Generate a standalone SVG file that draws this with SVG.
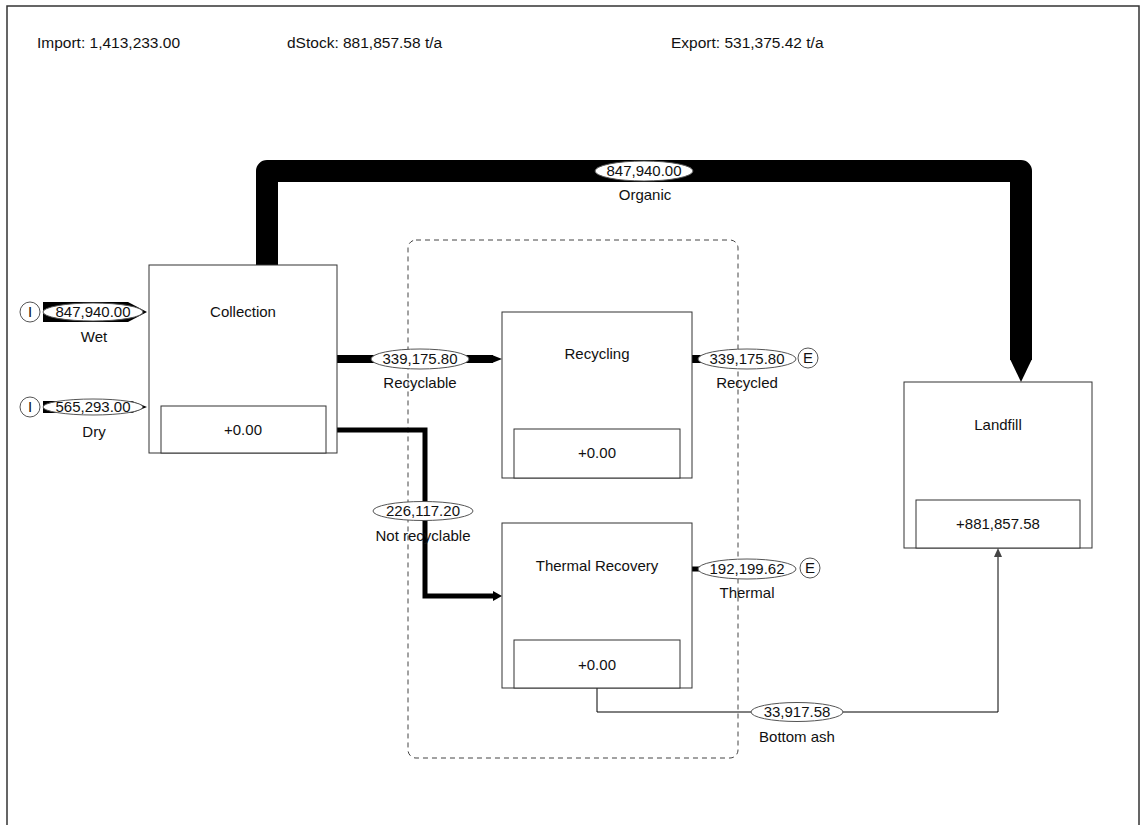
<svg xmlns="http://www.w3.org/2000/svg" width="1143" height="825" viewBox="0 0 1143 825">
<style>
text{font-family:"Liberation Sans",Arial,sans-serif;font-size:15px;fill:#111;text-anchor:middle}
.hdr{text-anchor:start;font-size:15.5px}
.box{fill:#fff;stroke:#333;stroke-width:1}
.lbl{fill:#fff;stroke:#555;stroke-width:1}
.flow{fill:none;stroke:#000}
.blk{fill:#000;stroke:none}
.term{fill:#fff;stroke:#555;stroke-width:1}
</style>
<rect width="1143" height="825" fill="#fff"/>
<path d="M7,825 V6 H1139 V825" fill="none" stroke="#333" stroke-width="1.5"/>
<g id="header">
<text class="hdr" x="37" y="48">Import: 1,413,233.00</text>
<text class="hdr" x="287" y="48">dStock: 881,857.58 t/a</text>
<text class="hdr" x="671" y="48">Export: 531,375.42 t/a</text>
</g>
<g id="system-boundary">
<rect x="408" y="240" width="330" height="518" rx="8" fill="none" stroke="#444" stroke-width="1" stroke-dasharray="5,4"/>
</g>
<g id="connectors">
<path class="flow" d="M267,266 V171 H1021 V360" stroke-width="22" stroke-linejoin="round"/>
<polygon class="blk" points="1010,359 1032,359 1021,382"/>
<polygon class="blk" points="43,302 128,302 147,312 128,322 43,322"/>
<polygon class="blk" points="43,401 132,401 147,407 132,413 43,413"/>
<path class="flow" d="M337,359 H493" stroke-width="8"/>
<polygon class="blk" points="492,355 502,359 492,363"/>
<path class="flow" d="M337,430 H425 V596 H494" stroke-width="5"/>
<polygon class="blk" points="493,591 502,596 493,601"/>
<path class="flow" d="M692,359 H745" stroke-width="8"/>
<path class="flow" d="M692,569 H745" stroke-width="5"/>
<path class="flow" d="M597,688 V712 H998 V556" stroke="#555" stroke-width="1"/>
<polygon fill="#444" points="994,557 1002,557 998,548"/>
<ellipse class="lbl" cx="93" cy="312" rx="50" ry="9"/>
<text x="93" y="317">847,940.00</text>
<text x="94" y="342">Wet</text>
<ellipse class="lbl" cx="93" cy="407" rx="50" ry="8"/>
<text x="93" y="412">565,293.00</text>
<text x="94" y="437">Dry</text>
<ellipse class="lbl" cx="644" cy="171" rx="49" ry="10"/>
<text x="644" y="176">847,940.00</text>
<text x="645" y="200">Organic</text>
<ellipse class="lbl" cx="420" cy="359" rx="49" ry="10"/>
<text x="420" y="364">339,175.80</text>
<text x="420" y="388">Recyclable</text>
<ellipse class="lbl" cx="423" cy="511" rx="50" ry="9.5"/>
<text x="423" y="516">226,117.20</text>
<text x="423" y="541">Not recyclable</text>
<ellipse class="lbl" cx="747" cy="359" rx="49" ry="10"/>
<text x="747" y="364">339,175.80</text>
<text x="747" y="388">Recycled</text>
<ellipse class="lbl" cx="747" cy="569" rx="49" ry="10"/>
<text x="747" y="574">192,199.62</text>
<text x="747" y="598">Thermal</text>
<ellipse class="lbl" cx="797" cy="712" rx="46" ry="9.5"/>
<text x="797" y="717">33,917.58</text>
<text x="797" y="742">Bottom ash</text>
</g>
<g id="import-wet">
<circle class="term" cx="30" cy="312" r="10"/>
<text x="30" y="317">I</text>
</g>
<g id="import-dry">
<circle class="term" cx="30" cy="407" r="10"/>
<text x="30" y="412">I</text>
</g>
<g id="export-recycled">
<circle class="term" cx="808" cy="358" r="10"/>
<text x="808" y="363">E</text>
</g>
<g id="export-thermal">
<circle class="term" cx="810" cy="568" r="10"/>
<text x="810" y="573">E</text>
</g>
<g id="collection">
<rect class="box" x="149" y="265" width="188" height="188"/>
<rect class="box" x="161" y="406" width="165" height="47"/>
<text x="243" y="317">Collection</text>
<text x="243" y="435">+0.00</text>
</g>
<g id="recycling">
<rect class="box" x="502" y="312" width="190" height="166"/>
<rect class="box" x="514" y="429" width="166" height="49"/>
<text x="597" y="359">Recycling</text>
<text x="597" y="458">+0.00</text>
</g>
<g id="thermal-recovery">
<rect class="box" x="502" y="523" width="190" height="165"/>
<rect class="box" x="514" y="640" width="166" height="48"/>
<text x="597" y="571">Thermal Recovery</text>
<text x="597" y="670">+0.00</text>
</g>
<g id="landfill">
<rect class="box" x="904" y="382" width="188" height="166"/>
<rect class="box" x="916" y="500" width="164" height="48"/>
<text x="998" y="430">Landfill</text>
<text x="998" y="529">+881,857.58</text>
</g>
</svg>
